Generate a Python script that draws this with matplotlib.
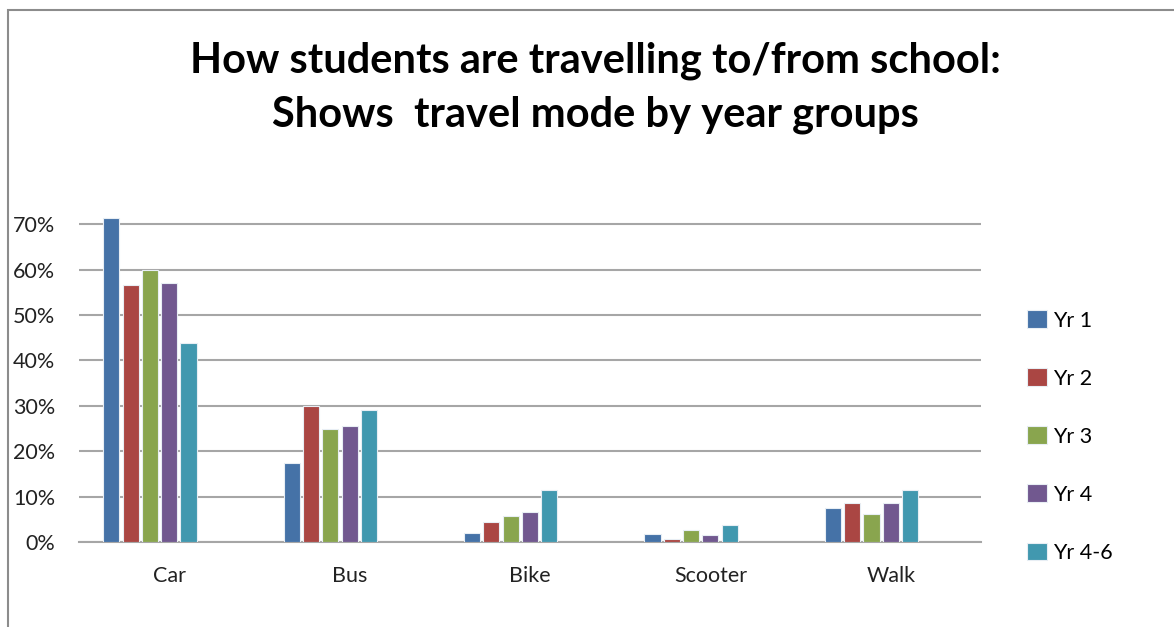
import numpy as np
import matplotlib.pyplot as plt
from matplotlib.patches import Rectangle

# travel mode share (%) by year group
modes = ['Car', 'Bus', 'Bike', 'Scooter', 'Walk']
groups = ['Yr 1', 'Yr 2', 'Yr 3', 'Yr 4', 'Yr 4-6']
yr1 = [71.4, 17.5, 1.9, 1.7, 7.4]
yr2 = [56.5, 30.0, 4.5, 0.6, 8.5]
yr3 = [59.9, 24.8, 5.8, 2.7, 6.1]
yr4 = [57.1, 25.6, 6.6, 1.6, 8.5]
yr4_6 = [43.9, 29.1, 11.4, 3.7, 11.4]
series = [yr1, yr2, yr3, yr4, yr4_6]
colors = ['#4572A7', '#AA4643', '#89A54E', '#71588F', '#4198AF']
yticks = [0, 10, 20, 30, 40, 50, 60, 70]

plt.rcParams['font.family'] = ['Lato', 'DejaVu Sans']

fig = plt.figure(figsize=(11.74, 6.27), dpi=100)
fig.patch.set_facecolor('white')

# chart border (cut off on the right and bottom like the screenshot)
fig.add_artist(Rectangle((8 / 1174, -0.05), 1.2, 1 - 10 / 627 + 0.05,
                         transform=fig.transFigure, fill=False,
                         edgecolor='#8C8C8C', linewidth=1.5))

ax = fig.add_axes([79 / 1174, 85 / 627, (981 - 79) / 1174, (412 - 85) / 627])

x = np.arange(len(modes))
pitch = 0.107
width = 0.089
for i, (vals, col, name) in enumerate(zip(series, colors, groups)):
    ax.bar(x + (i - 3) * pitch, vals, width, color=col, label=name,
           edgecolor='#E8EEF4', linewidth=0.8, zorder=3)

ax.set_xlim(-0.5, len(modes) - 0.5)
ax.set_ylim(0, 72)
ax.set_yticks(yticks)
ax.set_yticklabels([f'{t}%' for t in yticks], fontsize=15.5, color='#222222')
ax.set_xticks(x)
ax.set_xticklabels(modes, fontsize=15.5, color='#222222')
ax.tick_params(axis='y', length=0, pad=17)
ax.tick_params(axis='x', length=0, pad=17)
ax.yaxis.grid(True, color='#A6A6A6', linewidth=1.5, zorder=0)
for s in ['top', 'right', 'left']:
    ax.spines[s].set_visible(False)
ax.spines['bottom'].set_color('#A6A6A6')
ax.spines['bottom'].set_linewidth(1.5)

fig.text(0.507, 0.903, 'How students are travelling to/from school:',
         ha='center', va='center', fontsize=30, fontweight='bold')
fig.text(0.507, 0.817, 'Shows  travel mode by year groups',
         ha='center', va='center', fontsize=30, fontweight='bold')

leg = fig.legend(loc='upper left', bbox_to_anchor=(1008 / 1174, 1 - 291 / 627),
                 frameon=False, fontsize=15.5, handlelength=0.9,
                 handleheight=0.9, handletextpad=0.3, labelspacing=1.75)

fig.savefig('out.png', dpi=100)
